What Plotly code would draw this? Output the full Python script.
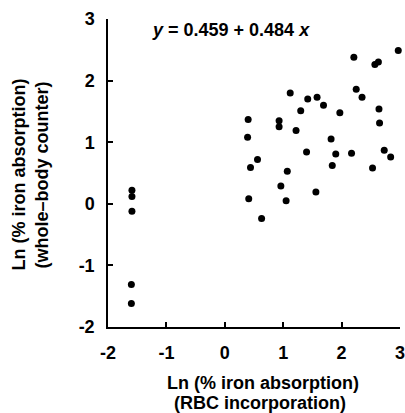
import plotly.graph_objects as go

# Data
x_vals = [2.97, 2.21, 2.57, 2.63, 2.25, 2.35, 2.64, 2.65, 1.97, 1.58,
          1.42, 1.69, 1.30, 1.12, 1.22, 0.93, 0.93, 0.40, 0.39, 1.82,
          1.40, 1.90, 2.17, 2.73, 2.84, 1.84, 2.53, 0.56, 0.44, 1.07,
          0.96, 1.56, 0.41, 1.05, 0.63,
          -1.59, -1.59, -1.59, -1.60, -1.60]
y_vals = [2.49, 2.38, 2.26, 2.30, 1.86, 1.73, 1.54, 1.31, 1.48, 1.73,
          1.70, 1.60, 1.51, 1.80, 1.19, 1.35, 1.25, 1.37, 1.08, 1.05,
          0.84, 0.81, 0.82, 0.87, 0.76, 0.62, 0.58, 0.72, 0.59, 0.53,
          0.29, 0.19, 0.08, 0.05, -0.24,
          0.22, 0.12, -0.12, -1.31, -1.62]
tick_vals = [-2, -1, 0, 1, 2, 3]
tick_text = ["-2", "-1", "0", "1", "2", "3"]
equation = "<b><i>y</i> = 0.459 + 0.484 <i>x</i></b>"
x_title = ["Ln (% iron absorption)", "(RBC incorporation)"]
y_title = ["Ln (% iron absorption)", "(whole\u2013body counter)"]

FONT = "Liberation Sans, Arial, sans-serif"

fig = go.Figure()
fig.add_trace(go.Scatter(
    x=x_vals, y=y_vals, mode="markers",
    marker=dict(color="black", size=7, line=dict(width=0)),
    showlegend=False, cliponaxis=False, hoverinfo="skip",
))

axis_common = dict(
    showline=True, linecolor="black", linewidth=1.5,
    ticks="inside", ticklen=5, tickwidth=1.5, tickcolor="black",
    showgrid=False, zeroline=False,
    tickvals=tick_vals, ticktext=tick_text,
    tickfont=dict(family=FONT, size=18, color="black", weight="bold"),
    ticklabeloverflow="allow",
    automargin=False,
    mirror=False,
)
fig.update_xaxes(range=[-2, 3], ticklabelstandoff=9, **axis_common)
fig.update_yaxes(range=[-2, 3], ticklabelstandoff=8, **axis_common)

fig.add_annotation(
    text=equation, xref="paper", yref="paper",
    x=(150 - 108) / 292, y=1 - (30 - 19) / 308,
    xanchor="left", yanchor="middle", showarrow=False,
    font=dict(family=FONT, size=18, color="black"),
)
# x-axis title lines
for t, px, py in zip(x_title, [263, 260], [383, 403]):
    fig.add_annotation(
        text="<b>" + t + "</b>", xref="paper", yref="paper",
        x=(px - 108) / 292, y=1 - (py - 19) / 308,
        xanchor="center", yanchor="middle", showarrow=False,
        font=dict(family=FONT, size=18, color="black"),
    )
# y-axis title lines
for t, px in zip(y_title, [18.5, 41.5]):
    fig.add_annotation(
        text="<b>" + t + "</b>", xref="paper", yref="paper",
        x=(px - 108) / 292, y=1 - (175 - 19) / 308,
        xanchor="center", yanchor="middle", showarrow=False, textangle=-90,
        font=dict(family=FONT, size=18, color="black"),
    )

fig.update_layout(
    width=405, height=413,
    margin=dict(l=108, r=5, t=19, b=86),
    paper_bgcolor="white", plot_bgcolor="white",
)

fig.write_html(
    "out.html",
    config={"displayModeBar": False},
    post_script="document.body.style.margin='0';document.body.style.overflow='hidden';",
)
